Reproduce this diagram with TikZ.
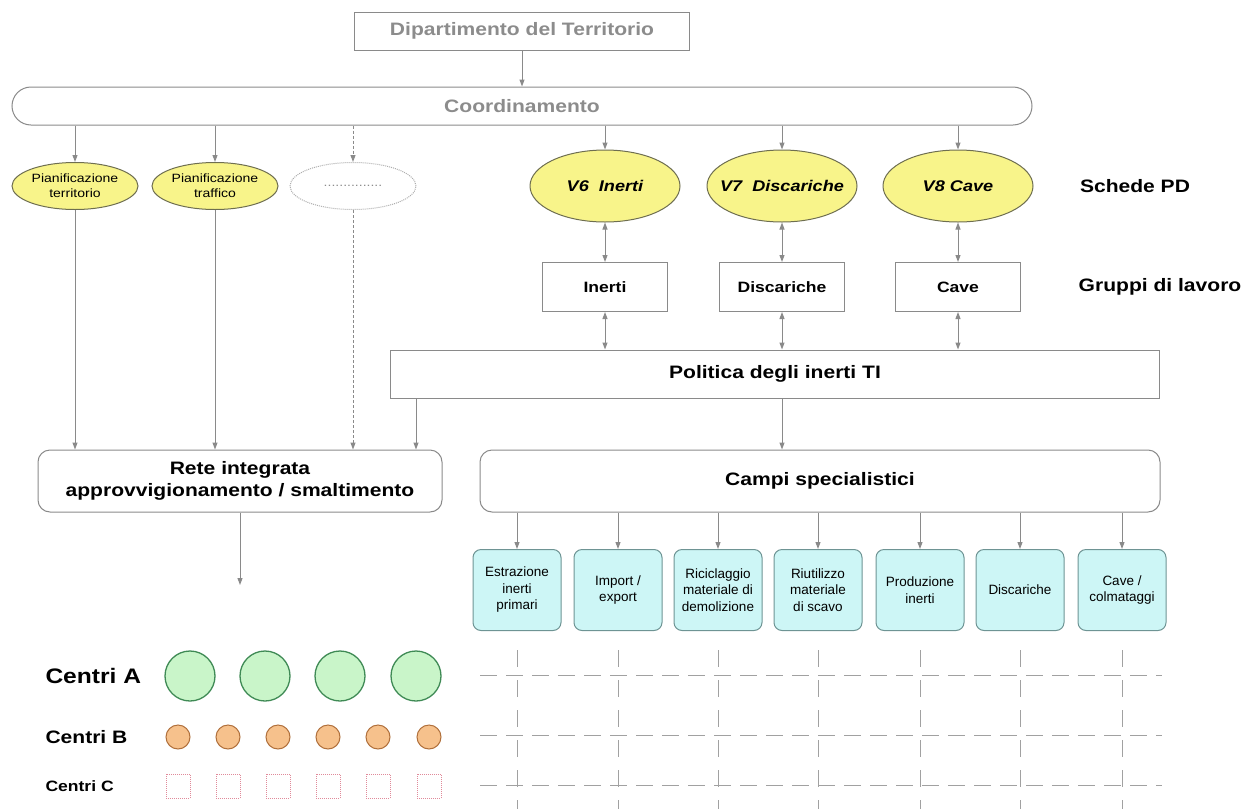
\documentclass[tikz,border=0pt]{standalone}
\usepackage{fontspec}
\setmainfont{Liberation Sans}[FakeStretch=1.17]
\newfontfamily\plainsans{Liberation Sans}
\usetikzlibrary{shapes.geometric,arrows.meta}
\definecolor{linegray}{HTML}{8A8A8A}
\definecolor{textgray}{HTML}{8C8C8C}
\definecolor{ellyellow}{HTML}{F8F48A}
\definecolor{ellline}{HTML}{6E6E50}
\definecolor{fieldcyan}{HTML}{CDF6F6}
\definecolor{fieldline}{HTML}{6E9494}
\definecolor{agreen}{HTML}{C9F5C9}
\definecolor{agreenline}{HTML}{3F8A55}
\definecolor{borange}{HTML}{F6C18C}
\definecolor{borangeline}{HTML}{B0703C}
\definecolor{cpink}{HTML}{E08A9A}
\begin{document}
\begin{tikzpicture}
  [x=1pt,y=-1pt,
   every node/.style={draw=linegray,line width=1pt,inner sep=0pt,align=center},
   topbox/.style={rectangle,text=textgray,minimum height=38pt,font=\fontsize{18}{20}\selectfont\bfseries},
   smallell/.style={ellipse,fill=ellyellow,draw=ellline,inner xsep=-10pt,minimum width=126pt,minimum height=47pt,font=\fontsize{12}{15}\selectfont},
   bigell/.style={ellipse,fill=ellyellow,draw=ellline,inner xsep=-25pt,minimum width=150pt,minimum height=72pt,font=\fontsize{15.5}{17}\selectfont\bfseries\itshape},
   grpbox/.style={rectangle,minimum width=125pt,minimum height=49pt,font=\fontsize{15}{17}\selectfont\bfseries},
   rowlabel/.style={draw=none,font=\fontsize{18}{20}\selectfont\bfseries},
   mainbox/.style={rectangle,minimum height=#1,font=\fontsize{18}{22}\selectfont\bfseries},
   fieldbox/.style={rectangle,rounded corners=8pt,fill=fieldcyan,draw=fieldline,minimum width=88pt,minimum height=81pt,font=\plainsans\fontsize{13.5}{16.5}\selectfont},
   centA/.style={circle,fill=agreen,draw=agreenline,line width=1.3pt,minimum size=50pt},
   centB/.style={circle,fill=borange,draw=borangeline,minimum size=24pt},
   centC/.style={rectangle,draw=cpink,densely dotted,minimum size=24pt},
   arr/.style={draw=linegray,line width=1pt,-{Triangle[length=7pt,width=5pt]}},
   biarr/.style={draw=linegray,line width=1pt,{Triangle[length=7pt,width=5pt]}-{Triangle[length=7pt,width=5pt]}},
   gridline/.style={draw=linegray!80,line width=1pt,dash pattern=on 17pt off 13pt}]
  \useasboundingbox (0,0) rectangle (1259,809);

  \node (dt) [topbox,minimum width=335pt] at (522,31) {Dipartimento del Territorio};
  \node (co) [topbox,rounded corners=19pt,minimum width=1020pt] at (522,106) {Coordinamento};

  \node (p1) [smallell] at (75,186) {Pianificazione\\territorio};
  \node (p2) [smallell] at (215,186) {Pianificazione\\traffico};
  \node (p3) [smallell,fill=none,draw=linegray!70,densely dotted] at (353,186) {\textcolor{textgray}{...............}};

  \node (v6) [bigell] at (605,186) {V6~~Inerti};
  \node (v7) [bigell] at (782,186) {V7~~Discariche};
  \node (v8) [bigell] at (958,186) {V8 Cave};
  \node (sch) [rowlabel] at (1135,186) {Schede PD};

  \node (g1) [grpbox] at (605,287) {Inerti};
  \node (g2) [grpbox] at (782,287) {Discariche};
  \node (g3) [grpbox] at (958,287) {Cave};
  \node (grl) [rowlabel] at (1160,287) {Gruppi di lavoro};

  \node (pol) [mainbox=48pt,minimum width=769pt] at (775,374) {Politica degli inerti TI};
  \node (rete) [mainbox=62pt,rounded corners=12pt,minimum width=404pt] at (240,481) {Rete integrata\\approvvigionamento / smaltimento};
  \node (campi) [mainbox=62pt,rounded corners=12pt,minimum width=680pt] at (820,481) {Campi specialistici};

  \node (f1) [fieldbox] at (517,590) {Estrazione\\inerti\\primari};
  \node (f2) [fieldbox] at (618,590) {Import /\\export};
  \node (f3) [fieldbox] at (718,590) {Riciclaggio\\materiale di\\demolizione};
  \node (f4) [fieldbox] at (818,590) {Riutilizzo\\materiale\\di scavo};
  \node (f5) [fieldbox] at (920,590) {Produzione\\inerti};
  \node (f6) [fieldbox] at (1020,590) {Discariche};
  \node (f7) [fieldbox] at (1122,590) {Cave /\\colmataggi};

  \node (la) [rowlabel,anchor=west,font=\fontsize{21}{24}\selectfont\bfseries] at (45,676) {Centri A};
  \node (lb) [rowlabel,anchor=west,font=\fontsize{18}{20}\selectfont\bfseries] at (45,737) {Centri B};
  \node (lc) [rowlabel,anchor=west,font=\fontsize{15}{17}\selectfont\bfseries] at (45,786) {Centri C};

  \foreach \i/\x in {1/190,2/265,3/340,4/416}
    \node (a\i) [centA] at (\x,676) {};
  \foreach \i/\x in {1/178,2/228,3/278,4/328,5/378,6/429}
  {
    \node (b\i) [centB] at (\x,737) {};
    \node (c\i) [centC] at (\x,786) {};
  }

  \coordinate (q) at (416,0);
  \coordinate (reteend) at (240,585);

  \draw[arr] (dt) -- (co);
  \foreach \to in {p1,p2,v6,v7,v8}
    \draw[arr] (\to |- co.south) -- (\to);
  \draw[arr,densely dashed] (p3 |- co.south) -- (p3);

  \foreach \from/\to in {v6/g1,v7/g2,v8/g3}
  {
    \draw[biarr] (\from) -- (\to);
    \draw[biarr] (\to) -- (\to |- pol.north);
  }

  \foreach \from in {p1,p2}
    \draw[arr] (\from) -- (\from |- rete.north);
  \draw[arr,densely dashed] (p3) -- (p3 |- rete.north);
  \draw[arr] (q |- pol.south) -- (q |- rete.north);
  \draw[arr] (g2 |- pol.south) -- (g2 |- campi.north);
  \draw[arr] (rete) -- (reteend);

  \foreach \to in {f1,f2,f3,f4,f5,f6,f7}
  {
    \draw[arr] (\to |- campi.south) -- (\to);
    \draw[gridline] (\to |- 0,650) -- (\to |- 0,809);
  }
  \foreach \y in {675,735,785}
    \draw[gridline,dash pattern=on 17pt off 9pt] (480,\y) -- (1162,\y);

\end{tikzpicture}
\end{document}
